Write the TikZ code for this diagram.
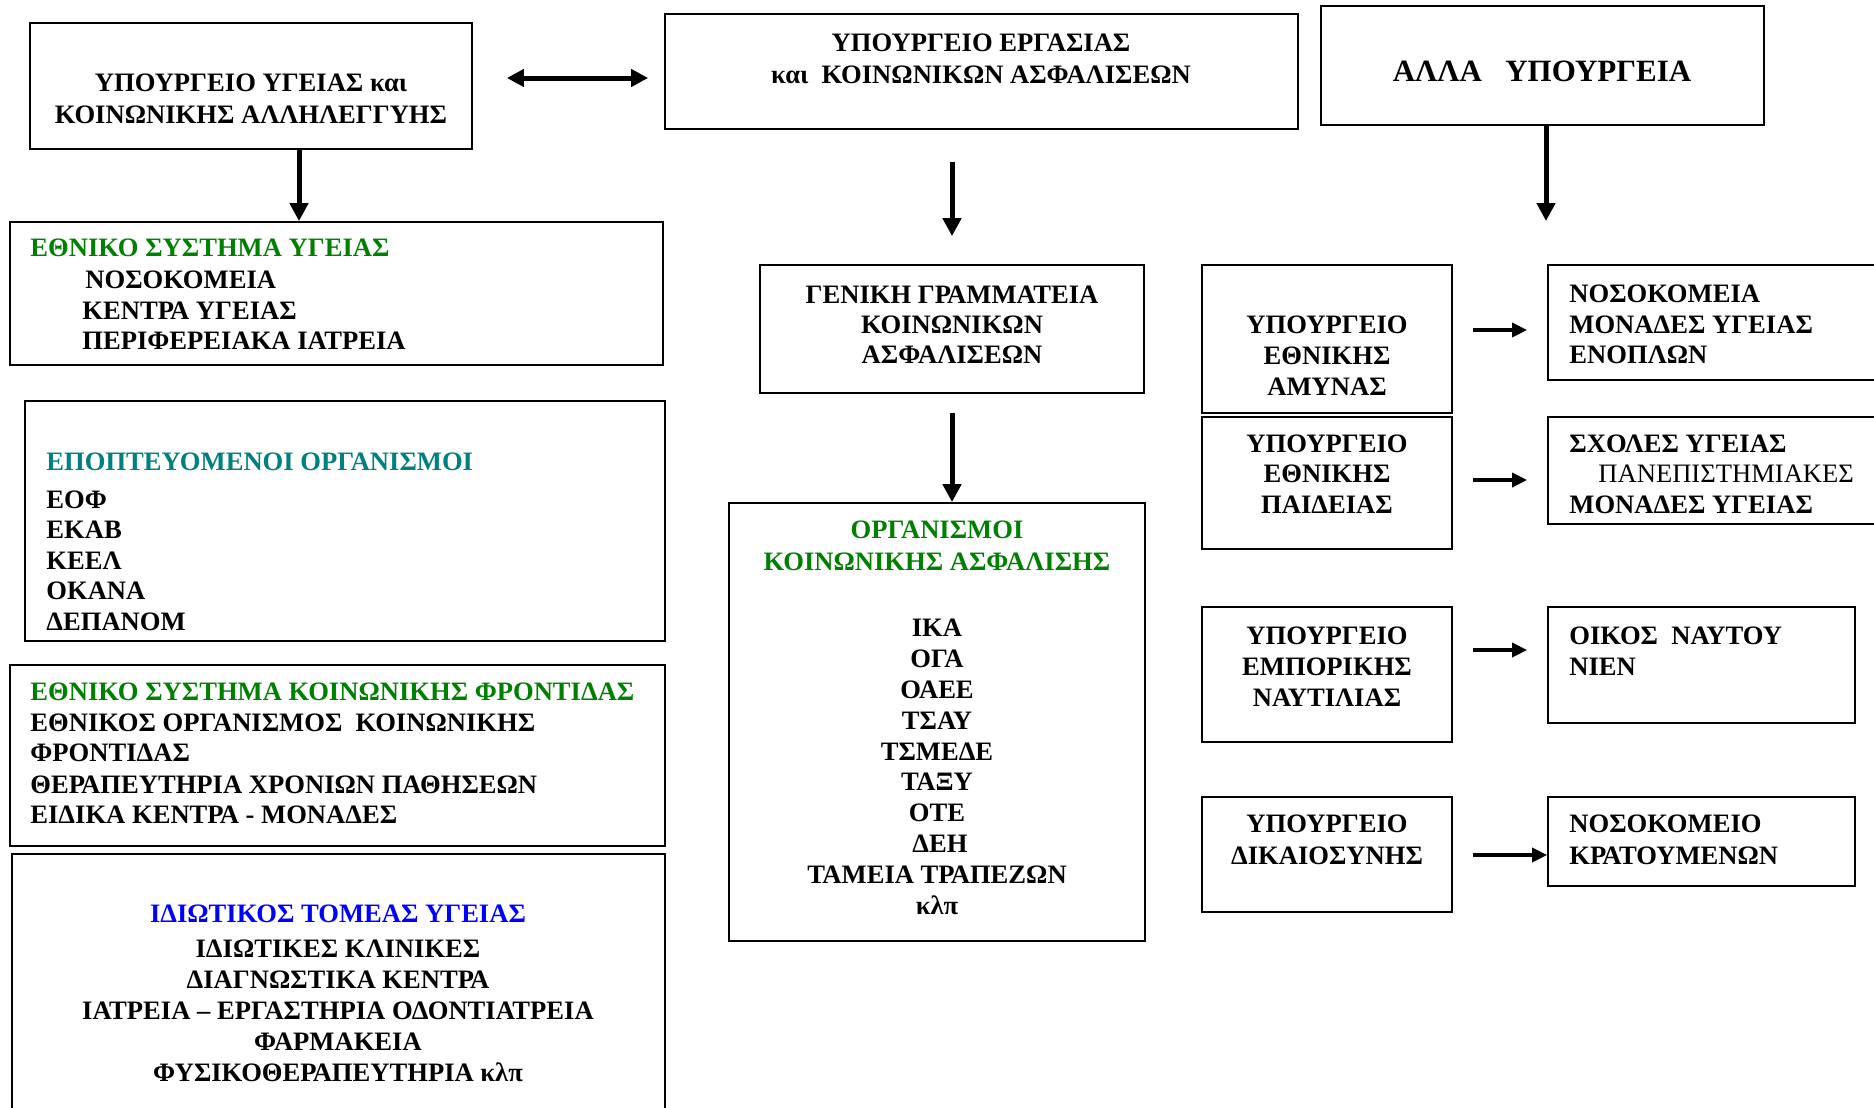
\documentclass[tikz,border=0pt]{standalone}
\usepackage{fontspec}
\setmainfont{Liberation Serif}
\usetikzlibrary{fit,arrows.meta}
\definecolor{esgreen}{RGB}{0,128,0}
\definecolor{esteal}{RGB}{0,128,128}
\definecolor{esblue}{RGB}{0,0,255}
\begin{document}
\begin{tikzpicture}[x=0.5pt,y=-0.5pt,
  box/.style={draw, line width=0.9pt, inner sep=0pt},
  tx/.style={inner sep=0pt, font=\fontsize{13.3}{16}\selectfont\bfseries},
  txl/.style={tx, anchor=base west},
  txc/.style={tx, anchor=base},
  bigarr/.style={line width=2.5pt, -{Triangle[width=9pt,length=9pt]}},
  smallarr/.style={line width=1.8pt, -{Triangle[width=7pt,length=7.5pt]}},
  dblarr/.style={line width=2.5pt, {Triangle[width=8.5pt,length=8.5pt]}-{Triangle[width=8.5pt,length=8.5pt]}}]
\useasboundingbox (0,0) rectangle (1874,1108);
\fill[white] (0,0) rectangle (1874,1108);

% boxes
\node[box, fit={(30,23) (472,149)}] (ypy) {};
\node[box, fit={(665,14) (1298,129)}] (yer) {};
\node[box, fit={(1321,6) (1764,125)}] (alla) {};
\node[box, fit={(10,222) (663,365)}] (esy) {};
\node[box, fit={(25,401) (665,641)}] (epopt) {};
\node[box, fit={(10,665) (665,846)}] (eskf) {};
\node[box, fit={(12,854) (665,1120)}] (idiot) {};
\node[box, fit={(760,265) (1144,393)}] (ggka) {};
\node[box, fit={(729,503) (1145,941)}] (oka) {};
\node[box, fit={(1202,265) (1452,413)}] (yea) {};
\node[box, fit={(1202,417) (1452,549)}] (yep) {};
\node[box, fit={(1202,607) (1452,742)}] (yen) {};
\node[box, fit={(1202,797) (1452,912)}] (ydik) {};
\node[box, fit={(1548,265) (1885,380)}] (r1) {};
\node[box, fit={(1548,417) (1885,524)}] (r2) {};
\node[box, fit={(1548,607) (1855,723)}] (r3) {};
\node[box, fit={(1548,797) (1855,886)}] (r4) {};

% helper coordinates
\coordinate (dy) at (0,78);
\coordinate (ax1) at (299,0);
\coordinate (allaend) at (1546,221);
\coordinate (h1) at (0,330);
\coordinate (h2) at (0,480);
\coordinate (h3) at (0,650);
\coordinate (h4) at (0,855);

% connectors
\draw[dblarr, shorten <=17pt, shorten >=8pt] (ypy.east |- dy) -- (yer.west |- dy);
\draw[bigarr] (ypy.south -| ax1) -- (esy.north -| ax1);
\draw[bigarr, shorten <=16pt, shorten >=14pt] (yer.south -| ggka.north) -- (ggka.north);
\draw[bigarr, shorten <=9.5pt] (ggka.south) -- (ggka.south |- oka.north);
\draw[bigarr] (alla.south -| allaend) -- (allaend);
\draw[smallarr, shorten <=10pt, shorten >=10pt] (yea.east |- h1) -- (r1.west |- h1);
\draw[smallarr, shorten <=10pt, shorten >=10pt] (yep.east |- h2) -- (r2.west |- h2);
\draw[smallarr, shorten <=10pt, shorten >=10pt] (yen.east |- h3) -- (r3.west |- h3);
\draw[smallarr, shorten <=10pt] (ydik.east |- h4) -- (r4.west |- h4);

% texts: top row
\node[txc] (ypy1) at (251,91) {ΥΠΟΥΡΓΕΙΟ ΥΓΕΙΑΣ και};
\node[txc] (ypy2) at (251,123) {ΚΟΙΝΩΝΙΚΗΣ ΑΛΛΗΛΕΓΓΥΗΣ};
\node[txc] (yer1) at (981,51) {ΥΠΟΥΡΓΕΙΟ ΕΡΓΑΣΙΑΣ};
\node[txc] (yer2) at (981,83) {και~~ΚΟΙΝΩΝΙΚΩΝ ΑΣΦΑΛΙΣΕΩΝ};
\node[txc, font=\fontsize{15.5}{18}\selectfont\bfseries] (alla1) at (1542,81) {ΑΛΛΑ~~~ΥΠΟΥΡΓΕΙΑ};

% ESY
\node[txl, text=esgreen] (esy1) at (30,256) {ΕΘΝΙΚΟ ΣΥΣΤΗΜΑ ΥΓΕΙΑΣ};
\node[txl] (esy2) at (85,288) {ΝΟΣΟΚΟΜΕΙΑ};
\node[txl] (esy3) at (82,319) {ΚΕΝΤΡΑ ΥΓΕΙΑΣ};
\node[txl] (esy4) at (82,349) {ΠΕΡΙΦΕΡΕΙΑΚΑ ΙΑΤΡΕΙΑ};

% supervised bodies
\node[txl, text=esteal] (ep1) at (46,470) {ΕΠΟΠΤΕΥΟΜΕΝΟΙ ΟΡΓΑΝΙΣΜΟΙ};
\node[txl] (ep2) at (46,508) {ΕΟΦ};
\node[txl] (ep3) at (46,538) {ΕΚΑΒ};
\node[txl] (ep4) at (46,569) {ΚΕΕΛ};
\node[txl] (ep5) at (46,599) {ΟΚΑΝΑ};
\node[txl] (ep6) at (46,630) {ΔΕΠΑΝΟΜ};

% ESKF
\node[txl, text=esgreen] (ek1) at (30,700) {ΕΘΝΙΚΟ ΣΥΣΤΗΜΑ ΚΟΙΝΩΝΙΚΗΣ ΦΡΟΝΤΙΔΑΣ};
\node[txl] (ek2) at (30,731) {ΕΘΝΙΚΟΣ ΟΡΓΑΝΙΣΜΟΣ~~ΚΟΙΝΩΝΙΚΗΣ};
\node[txl] (ek3) at (30,761) {ΦΡΟΝΤΙΔΑΣ};
\node[txl] (ek4) at (30,793) {ΘΕΡΑΠΕΥΤΗΡΙΑ ΧΡΟΝΙΩΝ ΠΑΘΗΣΕΩΝ};
\node[txl] (ek5) at (30,823) {ΕΙΔΙΚΑ ΚΕΝΤΡΑ - ΜΟΝΑΔΕΣ};

% private sector
\node[txc, text=esblue] (id1) at (338,922) {ΙΔΙΩΤΙΚΟΣ ΤΟΜΕΑΣ ΥΓΕΙΑΣ};
\node[txc] (id2) at (338,957) {ΙΔΙΩΤΙΚΕΣ ΚΛΙΝΙΚΕΣ};
\node[txc] (id3) at (338,988) {ΔΙΑΓΝΩΣΤΙΚΑ ΚΕΝΤΡΑ};
\node[txc] (id4) at (338,1019) {ΙΑΤΡΕΙΑ – ΕΡΓΑΣΤΗΡΙΑ ΟΔΟΝΤΙΑΤΡΕΙΑ};
\node[txc] (id5) at (338,1050) {ΦΑΡΜΑΚΕΙΑ};
\node[txc] (id6) at (338,1081) {ΦΥΣΙΚΟΘΕΡΑΠΕΥΤΗΡΙΑ κλπ};

% GGKA
\node[txc] (gg1) at (952,303) {ΓΕΝΙΚΗ ΓΡΑΜΜΑΤΕΙΑ};
\node[txc] (gg2) at (952,333) {ΚΟΙΝΩΝΙΚΩΝ};
\node[txc] (gg3) at (952,363) {ΑΣΦΑΛΙΣΕΩΝ};

% OKA
\node[txc, text=esgreen] (ok1) at (937,538) {ΟΡΓΑΝΙΣΜΟΙ};
\node[txc, text=esgreen] (ok2) at (937,570) {ΚΟΙΝΩΝΙΚΗΣ ΑΣΦΑΛΙΣΗΣ};
\node[txc] (ok3) at (937,636) {ΙΚΑ};
\node[txc] (ok4) at (937,667) {ΟΓΑ};
\node[txc] (ok5) at (937,698) {ΟΑΕΕ};
\node[txc] (ok6) at (937,729) {ΤΣΑΥ};
\node[txc] (ok7) at (937,760) {ΤΣΜΕΔΕ};
\node[txc] (ok8) at (937,790) {ΤΑΞΥ};
\node[txc] (ok9) at (937,821) {ΟΤΕ};
\node[txc] (ok10) at (940,852) {ΔΕΗ};
\node[txc] (ok11) at (937,883) {ΤΑΜΕΙΑ ΤΡΑΠΕΖΩΝ};
\node[txc] (ok12) at (937,914) {κλπ};

% other ministries
\node[txc] (ya1) at (1327,333) {ΥΠΟΥΡΓΕΙΟ};
\node[txc] (ya2) at (1327,364) {ΕΘΝΙΚΗΣ};
\node[txc] (ya3) at (1327,395) {ΑΜΥΝΑΣ};
\node[txc] (yp1) at (1327,452) {ΥΠΟΥΡΓΕΙΟ};
\node[txc] (yp2) at (1327,482) {ΕΘΝΙΚΗΣ};
\node[txc] (yp3) at (1327,513) {ΠΑΙΔΕΙΑΣ};
\node[txc] (yn1) at (1327,644) {ΥΠΟΥΡΓΕΙΟ};
\node[txc] (yn2) at (1327,675) {ΕΜΠΟΡΙΚΗΣ};
\node[txc] (yn3) at (1327,706) {ΝΑΥΤΙΛΙΑΣ};
\node[txc] (yd1) at (1327,832) {ΥΠΟΥΡΓΕΙΟ};
\node[txc] (yd2) at (1327,864) {ΔΙΚΑΙΟΣΥΝΗΣ};

% right column
\node[txl] (ra1) at (1569,302) {ΝΟΣΟΚΟΜΕΙΑ};
\node[txl] (ra2) at (1569,333) {ΜΟΝΑΔΕΣ ΥΓΕΙΑΣ};
\node[txl] (ra3) at (1569,363) {ΕΝΟΠΛΩΝ};
\node[txl] (rb1) at (1569,452) {ΣΧΟΛΕΣ ΥΓΕΙΑΣ};
\node[txl, font=\fontsize{13.3}{16}\selectfont] (rb2) at (1598,482) {ΠΑΝΕΠΙΣΤΗΜΙΑΚΕΣ};
\node[txl] (rb3) at (1569,513) {ΜΟΝΑΔΕΣ ΥΓΕΙΑΣ};
\node[txl] (rc1) at (1569,644) {ΟΙΚΟΣ~~ΝΑΥΤΟΥ};
\node[txl] (rc2) at (1569,675) {ΝΙΕΝ};
\node[txl] (rd1) at (1569,832) {ΝΟΣΟΚΟΜΕΙΟ};
\node[txl] (rd2) at (1569,864) {ΚΡΑΤΟΥΜΕΝΩΝ};
\end{tikzpicture}
\end{document}
